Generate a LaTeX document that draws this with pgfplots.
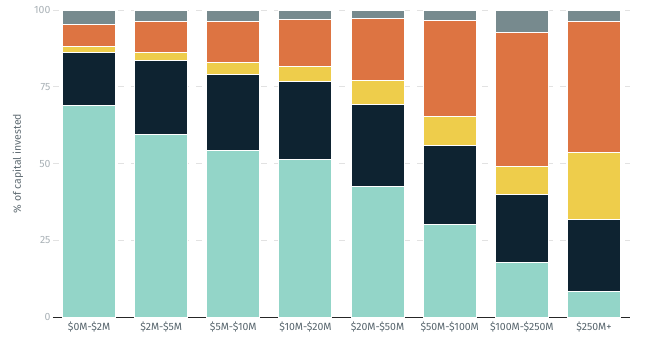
\documentclass[border=0pt]{standalone}
\usepackage{pgfplots}
\pgfplotsset{compat=1.18}
\usepackage{fontspec}
\setmainfont{Fira Sans}
\definecolor{cteal}{HTML}{93D5C8}
\definecolor{cnavy}{HTML}{0E2331}
\definecolor{cyellow}{HTML}{EECD4B}
\definecolor{corange}{HTML}{DD7442}
\definecolor{cgray}{HTML}{778A8E}
\definecolor{gridgray}{HTML}{E2E2E2}
\definecolor{ytl}{HTML}{A9B1B6}
\definecolor{xtl}{HTML}{56646C}
\definecolor{ylab}{HTML}{5F6B72}
\begin{document}
\begin{tikzpicture}
\begin{axis}[name=ax, scale only axis, width=577pt, height=307pt,
  xmin=-0.5, xmax=7.5, ymin=0, ymax=100,
  ybar stacked, bar width=0.735,
  xtick={0,...,7},
  xticklabels={\$0M-\$2M,\$2M-\$5M,\$5M-\$10M,\$10M-\$20M,\$20M-\$50M,\$50M-\$100M,\$100M-\$250M,\$250M+},
  ytick={0,25,50,75,100},
  ymajorgrids, grid style={dash pattern=on 6pt off 7pt, line width=0.8pt, color=gridgray},
  axis x line*=bottom, axis y line*=left,
  y axis line style={draw=none},
  x axis line style={draw=black!85, line width=0.8pt, -},
  xtick style={draw=none}, ytick style={draw=none},
  /pgf/number format/assume math mode=true,
  yticklabel style={font=\fontsize{10.5}{12}\selectfont, color=ytl, xshift=1pt},
  xticklabel style={font=\fontsize{10.5}{12}\selectfont, color=xtl, yshift=-1pt},
  ylabel={\% of capital invested},
  ylabel style={at={(axis description cs:-0.0607,0.5)}, anchor=center, font=\fontsize{10.5}{12}\selectfont, color=ylab},
]
\addplot[fill=cteal, draw=white, line width=1pt] coordinates {(0,68.8) (1,59.5) (2,54.3) (3,51.4) (4,42.6) (5,30.2) (6,17.8) (7,8.4)};
\addplot[fill=cnavy, draw=white, line width=1pt] coordinates {(0,17.4) (1,24.1) (2,24.7) (3,25.4) (4,26.7) (5,25.7) (6,22.2) (7,23.4)};
\addplot[fill=cyellow, draw=white, line width=1pt] coordinates {(0,2.0) (1,2.6) (2,4.0) (3,4.9) (4,7.8) (5,9.5) (6,9.1) (7,21.8)};
\addplot[fill=corange, draw=white, line width=1pt] coordinates {(0,7.1) (1,10.1) (2,13.3) (3,15.3) (4,20.2) (5,31.2) (6,43.6) (7,42.7)};
\addplot[fill=cgray, draw=white, line width=1pt] coordinates {(0,4.7) (1,3.7) (2,3.7) (3,3.0) (4,2.7) (5,3.4) (6,7.3) (7,3.7)};
\end{axis}
\pgfresetboundingbox
\path[use as bounding box] ([xshift=-53pt,yshift=-32pt]ax.south west) rectangle ([xshift=23pt,yshift=10pt]ax.north east);
\end{tikzpicture}
\end{document}
